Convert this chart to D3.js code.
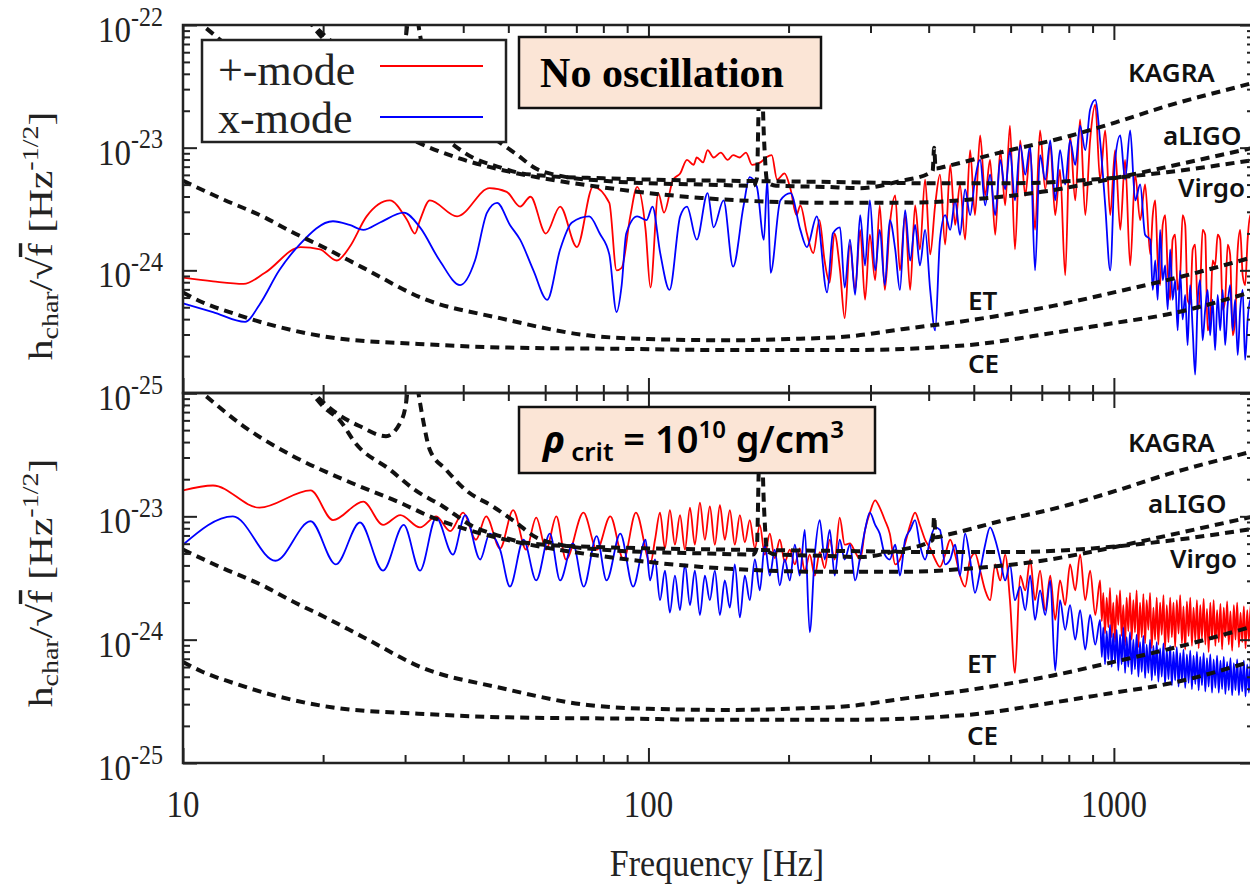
<!DOCTYPE html>
<html>
<head>
<meta charset="utf-8">
<script src="https://cdn.jsdelivr.net/npm/d3@7"></script>
<style>
  body { margin: 0; background: #fff; }
  svg { display: block; }
</style>
</head>
<body>
<script>
// all series: [frequency in Hz, log10 of h_char/sqrt(f) in Hz^-1/2]

// top panel: no oscillation
const topPlus = [[10,-24.06],[11.6,-24.09],[13.5,-24.11],[15,-24.02],[17.9,-23.81],[19.7,-23.83],[21.4,-23.92],[22.8,-23.81],[24.8,-23.56],[27.8,-23.43],[30.3,-23.59],[31.5,-23.7],[32.3,-23.59],[33.9,-23.43],[38.8,-23.56],[45.6,-23.33],[49.6,-23.36],[53,-23.48],[55.8,-23.4],[60.2,-23.7],[64.6,-23.48],[70.2,-23.81],[76,-23.32],[82.4,-23.45],[85.4,-24],[87.6,-23.98],[91.4,-23.56],[94.6,-23.32],[98.6,-23.67],[101,-24.14],[105,-23.37],[108,-23.53],[113,-23.26],[117,-23.21],[121,-23.1],[125,-23.14],[127,-23.08],[131,-23.12],[134,-23.02],[138,-23.08],[143,-23.04],[148,-23.1],[152,-23.06],[157,-23.08],[162,-23.04],[167,-23.14],[174,-23.12],[179,-23.08],[184,-23.06],[189,-23.26],[196,-23.21],[202,-23.34],[208,-23.55],[212,-23.47],[219,-23.7],[226,-23.86],[233,-23.59],[239,-23.92],[245,-24.1],[251,-23.7],[258,-24],[264,-24.39],[271,-23.79],[278,-24.16],[285,-23.67],[292,-24.24],[299,-23.71],[307,-24.08],[314,-23.47],[322,-24.16],[330,-23.63],[339,-23.39],[347,-24],[356,-23.55],[365,-24.16],[374,-23.47],[383,-23.83],[393,-23.26],[403,-23.87],[413,-23.47],[423,-23.22],[434,-23.79],[445,-23.14],[456,-23.63],[467,-23.3],[479,-23.75],[491,-23.02],[503,-23.55],[516,-22.9],[529,-23.39],[542,-23.1],[556,-23.71],[570,-23.02],[584,-23.47],[598,-22.82],[613,-23.83],[629,-22.94],[645,-23.39],[661,-23.02],[677,-23.67],[694,-22.86],[712,-23.34],[730,-22.98],[748,-23.55],[766,-23.18],[786,-24.04],[805,-22.9],[826,-23.43],[846,-22.77],[868,-23.55],[889,-22.94],[912,-22.65],[934,-23.26],[958,-22.86],[982,-23.55],[1006,-23.02],[1032,-23.67],[1057,-23.1],[1084,-23.96],[1111,-23.22],[1139,-23.59],[1167,-23.3],[1197,-23.87],[1212,-23.55],[1227,-23.43],[1242,-23.92],[1257,-24.12],[1273,-23.63],[1289,-23.55],[1305,-24],[1321,-24.24],[1337,-23.75],[1354,-23.71],[1371,-24.16],[1388,-24.04],[1405,-23.55],[1423,-23.63],[1440,-24.24],[1458,-24.28],[1477,-23.83],[1495,-23.79],[1514,-24.32],[1532,-24.16],[1551,-23.67],[1571,-23.71],[1590,-24.49],[1610,-24.4],[1630,-23.92],[1650,-23.96],[1671,-23.71],[1692,-23.75],[1713,-24.32],[1734,-24.24],[1756,-23.79],[1777,-23.87],[1800,-24.53],[1822,-24.4],[1845,-23.83],[1868,-23.67],[1891,-24.04],[1914,-24.12],[1938,-23.75],[1962,-23.55],[1987,-23.87],[2000,-23.71]];

const topCross = [[10,-24.27],[11.6,-24.34],[13.6,-24.42],[14.6,-24.28],[16.1,-24],[17.8,-23.79],[21,-23.6],[22.8,-23.63],[24.4,-23.67],[26.5,-23.61],[29.8,-23.53],[32.3,-23.65],[35.6,-23.92],[39.4,-24.12],[42.4,-23.92],[45,-23.53],[47.3,-23.45],[50.4,-23.63],[53,-23.75],[56.6,-24],[60.6,-24.24],[64.6,-23.83],[68.5,-23.61],[74.6,-23.56],[78.6,-23.7],[82.4,-23.87],[85.4,-24.34],[87.6,-24.12],[89.6,-23.7],[94.6,-23.56],[99.1,-23.59],[102,-23.48],[106,-23.86],[111,-24.16],[117,-23.56],[121,-23.48],[127,-23.75],[134,-23.37],[138,-23.65],[145,-23.43],[152,-23.97],[160,-23.48],[165,-23.24],[171,-23.32],[177,-23.75],[180,-23.26],[183,-24.02],[192,-23.43],[202,-23.37],[212,-23.67],[219,-23.81],[230,-23.56],[242,-24.18],[249,-23.7],[258,-23.65],[264,-24.14],[271,-23.75],[278,-24.2],[285,-23.55],[292,-23.96],[299,-23.43],[307,-24],[314,-23.67],[322,-24.12],[330,-23.59],[339,-23.83],[347,-24.16],[356,-23.51],[365,-23.92],[374,-23.63],[383,-23.96],[393,-23.67],[403,-24.16],[413,-24.49],[423,-23.75],[434,-23.55],[445,-23.67],[456,-23.43],[467,-23.71],[479,-23.34],[491,-23.55],[503,-23.26],[516,-23.1],[529,-23.47],[542,-23.22],[556,-23.55],[570,-23.1],[584,-23.34],[598,-23.02],[613,-23.43],[629,-22.98],[645,-23.22],[661,-22.98],[677,-24],[694,-23.06],[712,-23.26],[730,-22.94],[748,-23.43],[766,-23.02],[786,-23.3],[805,-22.94],[826,-23.14],[846,-22.82],[868,-23.02],[889,-22.69],[912,-22.61],[934,-22.94],[958,-23.47],[982,-24],[1006,-23.1],[1032,-22.9],[1057,-23.26],[1084,-22.86],[1111,-23.43],[1139,-23.3],[1167,-23.71],[1197,-23.75],[1212,-24.16],[1227,-23.92],[1242,-24.24],[1257,-23.67],[1273,-24.08],[1289,-23.96],[1305,-24.32],[1321,-23.83],[1337,-24.24],[1354,-24.08],[1371,-24.49],[1388,-24],[1405,-24.4],[1423,-24.2],[1440,-24.61],[1458,-24.12],[1477,-24.49],[1495,-24.85],[1514,-24.24],[1532,-24.08],[1551,-24.57],[1571,-24.32],[1590,-24.16],[1610,-24.53],[1630,-24.24],[1650,-24.65],[1671,-24.2],[1692,-24.49],[1713,-24.16],[1734,-24.61],[1756,-24.28],[1777,-24.12],[1800,-24.49],[1822,-24.24],[1845,-24.69],[1868,-24.32],[1891,-24.16],[1914,-24.73],[1938,-24.4],[1962,-24.24],[1987,-24.57],[2000,-24.4]];

// bottom panel: rho_crit = 1e10 g/cm^3
const botPlus = [[10,-22.79],[11.6,-22.75],[14.6,-22.93],[18.8,-22.79],[21,-23.03],[24.4,-22.88],[26.9,-23.07],[29.3,-22.99],[32.3,-23.09],[35,-23],[37.5,-23.12],[40,-22.97],[42.6,-23.19],[44.8,-23],[48,-23.26],[51.2,-22.95],[54.6,-23.27],[57.4,-23.01],[60.3,-23.27],[63.4,-23],[66.5,-23.35],[72.5,-22.97],[77.5,-23.27],[82.8,-23],[88.4,-23.35],[94,-22.97],[101,-23.38],[103.3,-23.19],[105.9,-22.97],[108.5,-23.26],[111.2,-22.95],[114,-23.23],[116.9,-22.99],[119.8,-23.27],[122.8,-22.93],[125.8,-23.23],[129,-22.89],[132.2,-23.19],[135.5,-22.92],[138.9,-23.23],[142.4,-22.91],[145.9,-23.19],[149.6,-22.95],[153.3,-23.23],[157.2,-22.99],[161.1,-23.21],[165.1,-23.03],[169.3,-23.26],[173.5,-23.07],[177.8,-23.31],[182.3,-23.14],[186.8,-23.34],[191.5,-23.19],[196.3,-23.37],[201.2,-23.27],[206.3,-23.39],[211.4,-23.26],[216.7,-23.44],[222.1,-23.31],[227.7,-23.48],[233.4,-23.29],[239.2,-23.42],[245.2,-23.19],[251.3,-23.35],[257.6,-23.01],[264,-23.23],[271,-23.22],[278,-23.29],[285,-23.35],[292,-23.11],[299,-22.97],[307,-22.87],[314,-22.93],[322,-23.03],[330,-23.14],[339,-23.39],[347,-23.35],[356,-23.22],[365,-23.07],[374,-22.97],[383,-23.07],[393,-23.19],[403,-23.26],[413,-23.35],[423,-23.41],[434,-23.31],[445,-23.19],[456,-23.31],[467,-23.48],[479,-23.57],[491,-23.35],[503,-23.3],[516,-23.44],[529,-23.6],[542,-23.68],[556,-23.39],[570,-23.52],[584,-23.31],[598,-23.68],[613,-24.27],[629,-23.48],[645,-23.6],[661,-23.35],[677,-23.68],[694,-23.44],[712,-23.76],[730,-23.48],[748,-23.84],[766,-23.52],[786,-23.72],[805,-23.39],[826,-23.6],[846,-23.31],[868,-23.68],[889,-23.44],[912,-23.8],[934,-23.52],[942,-23.85],[949,-23.62],[957,-23.95],[965,-23.66],[973,-23.9],[981,-23.58],[989,-23.98],[997,-23.7],[1006,-24.02],[1014,-23.64],[1022,-23.88],[1031,-23.6],[1039,-23.97],[1048,-23.72],[1057,-24.05],[1065,-23.66],[1074,-23.93],[1083,-23.62],[1092,-24],[1101,-23.68],[1110,-23.94],[1119,-23.6],[1129,-24.06],[1138,-23.7],[1148,-23.98],[1157,-23.63],[1167,-24.03],[1176,-23.68],[1186,-23.92],[1196,-23.62],[1206,-24.07],[1216,-23.74],[1226,-24],[1236,-23.66],[1246,-24.04],[1257,-23.7],[1267,-23.96],[1278,-23.64],[1288,-24.08],[1299,-23.72],[1310,-24.02],[1321,-23.66],[1332,-23.98],[1343,-23.7],[1354,-24.06],[1365,-23.68],[1377,-23.95],[1388,-23.64],[1400,-24.03],[1411,-23.73],[1423,-24.08],[1435,-23.69],[1447,-23.97],[1459,-23.66],[1471,-24.05],[1483,-23.74],[1496,-24.01],[1508,-23.68],[1521,-24.07],[1533,-23.72],[1546,-23.99],[1559,-23.67],[1572,-24.04],[1585,-23.75],[1598,-24.1],[1611,-23.7],[1625,-24],[1638,-23.68],[1652,-24.05],[1666,-23.76],[1680,-24.02],[1694,-23.71],[1708,-24.08],[1722,-23.74],[1736,-23.98],[1751,-23.69],[1765,-24.04],[1780,-23.77],[1795,-24.09],[1810,-23.72],[1825,-24],[1840,-23.7],[1856,-24.06],[1871,-23.78],[1887,-24.02],[1902,-23.73],[1918,-24.07],[1934,-23.76],[1950,-24.01],[1966,-23.72],[1983,-24.05],[1999,-23.8]];

const botCross = [[10,-23.23],[12.8,-23],[15.8,-23.36],[18.8,-23.04],[21.3,-23.39],[24,-23.05],[26.9,-23.44],[29.8,-23.07],[32.3,-23.44],[35,-23.01],[38,-23.31],[40.4,-22.99],[43.5,-23.35],[45.6,-23.14],[48,-23.27],[50.4,-23.57],[53.9,-23.19],[57.4,-23.52],[61.4,-23.14],[64.6,-23.52],[68.8,-23.22],[72.6,-23.57],[77.4,-23.16],[81.3,-23.52],[87,-23.14],[92.7,-23.57],[98.6,-23.19],[100.8,-23.52],[103.3,-23.35],[105.9,-23.68],[108.5,-23.44],[111.2,-23.78],[114,-23.48],[116.9,-23.76],[119.8,-23.39],[122.8,-23.72],[125.8,-23.44],[129,-23.8],[132.2,-23.48],[135.5,-23.68],[138.9,-23.44],[142.4,-23.8],[145.9,-23.52],[149.6,-23.74],[153.3,-23.39],[157.2,-23.82],[161.1,-23.48],[165.1,-23.68],[169.3,-23.35],[173.5,-23.6],[177.8,-23.23],[182.3,-23.48],[186.8,-23.27],[191.5,-23.56],[196.3,-23.35],[201.2,-23.52],[206.3,-23.23],[211.4,-23.48],[216.7,-23.11],[222.1,-23.94],[227.7,-23.31],[233.4,-23.03],[239.2,-23.35],[245.2,-23.11],[251.3,-23.48],[257.6,-23.19],[264,-23.35],[271,-23.23],[278,-23.52],[285,-23.33],[292,-23.11],[299,-22.97],[307,-23.07],[314,-23.14],[322,-23.31],[330,-23.35],[339,-23.23],[347,-23.48],[356,-23.19],[365,-23.11],[374,-23.03],[383,-23.23],[393,-23.35],[403,-23.19],[413,-23.09],[423,-23.11],[434,-23.39],[445,-23.35],[456,-23.23],[467,-23.48],[479,-23.14],[491,-23.35],[503,-23.62],[516,-23.44],[529,-23.23],[542,-23.09],[556,-23.19],[570,-23.35],[584,-23.52],[598,-23.39],[613,-23.68],[629,-23.57],[645,-23.76],[661,-23.48],[677,-23.84],[694,-23.6],[712,-23.8],[730,-23.52],[748,-24.25],[766,-23.68],[786,-23.92],[805,-23.72],[826,-24],[846,-23.76],[868,-24.08],[889,-23.8],[912,-24.04],[934,-23.84],[942,-24.14],[949,-23.9],[957,-24.2],[965,-23.93],[973,-24.16],[981,-23.88],[989,-24.22],[997,-23.95],[1006,-24.18],[1014,-23.92],[1022,-24.25],[1031,-23.96],[1039,-24.2],[1048,-23.9],[1057,-24.27],[1065,-23.98],[1074,-24.22],[1083,-23.94],[1092,-24.28],[1101,-24],[1110,-24.24],[1119,-23.96],[1129,-24.3],[1138,-24.02],[1148,-24.26],[1157,-23.97],[1167,-24.31],[1176,-24.04],[1186,-24.27],[1196,-24],[1206,-24.33],[1216,-24.05],[1226,-24.29],[1236,-24.02],[1246,-24.34],[1257,-24.07],[1267,-24.3],[1278,-24.03],[1288,-24.36],[1299,-24.08],[1310,-24.32],[1321,-24.05],[1332,-24.37],[1343,-24.1],[1354,-24.33],[1365,-24.06],[1377,-24.38],[1388,-24.11],[1400,-24.34],[1411,-24.08],[1423,-24.39],[1435,-24.12],[1447,-24.35],[1459,-24.09],[1471,-24.4],[1483,-24.13],[1496,-24.36],[1508,-24.1],[1521,-24.41],[1533,-24.14],[1546,-24.37],[1559,-24.11],[1572,-24.42],[1585,-24.15],[1598,-24.38],[1611,-24.12],[1625,-24.43],[1638,-24.16],[1652,-24.39],[1666,-24.13],[1680,-24.43],[1694,-24.17],[1708,-24.4],[1722,-24.14],[1736,-24.44],[1751,-24.18],[1765,-24.41],[1780,-24.15],[1795,-24.45],[1810,-24.19],[1825,-24.41],[1840,-24.16],[1856,-24.45],[1871,-24.2],[1887,-24.42],[1902,-24.17],[1918,-24.46],[1934,-24.2],[1950,-24.43],[1966,-24.18],[1983,-24.46],[1999,-24.22]];

// detector noise curves
const kagra = [[18.5,-21.95],[19.3,-22.02],[21.3,-22.16],[24,-22.27],[27.3,-22.35],[29.3,-22.24],[30.2,-22.06],[31,-21.6],[31.9,-21.95],[32.8,-22.22],[33.9,-22.46],[36.7,-22.62],[40.6,-22.79],[46.3,-22.92],[51.9,-23.05],[57.3,-23.17],[64.7,-23.23],[80,-23.27],[100,-23.29],[130,-23.3],[168,-23.31],[171,-23.25],[173,-22.5],[175,-22.4],[177,-22.9],[180,-23.28],[188,-23.31],[240,-23.32],[285,-23.33],[350,-23.27],[400,-23.21],[408,-23.19],[411,-23.0],[414,-23.17],[438,-23.15],[569,-23.04],[794,-22.91],[1016,-22.79],[1301,-22.66],[1866,-22.5],[2000,-22.47]];
const aligo = [[10.6,-21.95],[11,-22.0],[13.5,-22.27],[17.2,-22.51],[22.4,-22.71],[29.3,-22.89],[33.9,-23.0],[39.4,-23.09],[48.2,-23.18],[61.5,-23.26],[78.6,-23.32],[100,-23.37],[130,-23.41],[180,-23.44],[250,-23.45],[350,-23.45],[500,-23.42],[700,-23.36],[1000,-23.25],[1400,-23.13],[2000,-23.0]];
const virgo = [[18.5,-21.95],[20,-22.11],[21.7,-22.22],[23.5,-22.41],[27.8,-22.62],[31.6,-22.79],[36.2,-22.92],[41.9,-23.08],[48,-23.16],[52,-23.2],[60,-23.23],[80,-23.25],[100,-23.26],[150,-23.27],[250,-23.28],[400,-23.29],[600,-23.29],[900,-23.26],[1300,-23.2],[2000,-23.1]];
const et = [[10,-23.27],[12,-23.41],[15,-23.57],[17,-23.68],[20,-23.81],[24.4,-23.98],[32.8,-24.23],[48,-24.39],[74,-24.53],[100,-24.56],[150,-24.57],[200,-24.56],[267,-24.54],[350,-24.48],[484,-24.41],[740,-24.29],[1000,-24.18],[1400,-24.05],[2000,-23.89]];
const ce = [[10,-24.18],[11,-24.26],[12.8,-24.35],[16,-24.46],[21,-24.55],[32,-24.6],[50,-24.63],[87,-24.64],[150,-24.65],[267,-24.65],[484,-24.61],[740,-24.51],[1000,-24.43],[1300,-24.36],[2000,-24.17]];

const detectorNames = ["KAGRA", "aLIGO", "Virgo", "ET", "CE"];
const yTickExps = [-22, -23, -24, -25];
const xTickValues = [10, 100, 1000];
const legendNames = ["+-mode", "x-mode"];

const W = 1250, H = 885;
const X0 = 183, X1 = 1254;
const serif = "'Liberation Serif','Times New Roman',serif";
const sans = "'Noto Sans','DejaVu Sans',sans-serif";

const svg = d3.select("body").append("svg").attr("width", W).attr("height", H);
svg.append("rect").attr("width", W).attr("height", H).attr("fill", "#fff");

const x = d3.scaleLog().domain([10, 2000]).range([X0, X1]);

const panels = [
  {y0: 25, y1: 393, plus: topPlus, cross: topCross,
   labels: [[1128, 82], [1163, 145], [1178, 197], [968, 310], [968, 373]]},
  {y0: 393, y1: 763, plus: botPlus, cross: botCross,
   labels: [[1128, 452], [1148, 513], [1170, 568], [967, 673], [967, 745]]}
];

const xMinor = [];
[10, 100, 1000].forEach(function(d) {
  for (let k = 2; k <= 9; k++) if (d * k < 2000) xMinor.push(d * k);
});
const yMinor = [];
[1e-25, 1e-24, 1e-23].forEach(function(d) {
  for (let k = 2; k <= 9; k++) yMinor.push(d * k);
});

panels.forEach(function(p, i) {
  const y = d3.scaleLog().domain([1e-25, 1e-22]).range([p.y1, p.y0]);
  const line = d3.line()
    .x(function(d) { return x(d[0]); })
    .y(function(d) { return y(Math.pow(10, d[1])); })
    .curve(d3.curveMonotoneX);

  const clipId = "clip" + i;
  svg.append("clipPath").attr("id", clipId)
    .append("rect").attr("x", X0).attr("y", p.y0).attr("width", X1 - X0).attr("height", p.y1 - p.y0);

  const g = svg.append("g").attr("clip-path", "url(#" + clipId + ")");
  g.append("path").datum(p.plus).attr("d", line)
    .attr("fill", "none").attr("stroke", "#ff0000").attr("stroke-width", 1.8);
  g.append("path").datum(p.cross).attr("d", line)
    .attr("fill", "none").attr("stroke", "#0000ff").attr("stroke-width", 1.8);

  [kagra, aligo, virgo, et, ce].forEach(function(c) {
    g.append("path").datum(c).attr("d", line)
      .attr("fill", "none").attr("stroke", "#111").attr("stroke-width", 4)
      .attr("stroke-dasharray", "9,6");
  });

  // ticks on all four sides, pointing inwards
  function ticks(axis, tr) {
    const a = svg.append("g").attr("transform", tr).call(axis);
    a.select(".domain").remove();
    a.selectAll("line").attr("stroke", "#222").attr("stroke-width", 2);
    a.selectAll("text").remove();
  }
  const major = [1e-25, 1e-24, 1e-23, 1e-22];
  ticks(d3.axisLeft(y).tickValues(major).tickSize(-14), `translate(${X0},0)`);
  ticks(d3.axisLeft(y).tickValues(yMinor).tickSize(-7), `translate(${X0},0)`);
  ticks(d3.axisRight(y).tickValues(major).tickSize(-14), `translate(${X1},0)`);
  ticks(d3.axisRight(y).tickValues(yMinor).tickSize(-7), `translate(${X1},0)`);
  ticks(d3.axisTop(x).tickValues(xTickValues).tickSize(-15), `translate(0,${p.y0})`);
  ticks(d3.axisTop(x).tickValues(xMinor).tickSize(-8), `translate(0,${p.y0})`);
  ticks(d3.axisBottom(x).tickValues(xTickValues).tickSize(-15), `translate(0,${p.y1})`);
  ticks(d3.axisBottom(x).tickValues(xMinor).tickSize(-8), `translate(0,${p.y1})`);

  svg.append("rect").attr("x", X0).attr("y", p.y0).attr("width", X1 - X0).attr("height", p.y1 - p.y0)
    .attr("fill", "none").attr("stroke", "#222").attr("stroke-width", 2.5);

  // y tick labels
  yTickExps.forEach(function(e) {
    if (i === 1 && e === -22) return;
    const t = svg.append("text")
      .attr("transform", `translate(163,${y(Math.pow(10, e)) + 17}) scale(1,1.1)`)
      .attr("text-anchor", "end").attr("font-family", serif).attr("font-size", 33).attr("fill", "#222");
    t.append("tspan").text("10");
    t.append("tspan").attr("font-size", 24).attr("dy", -15).text(e);
  });

  // detector labels
  detectorNames.forEach(function(n, k) {
    svg.append("text").attr("x", p.labels[k][0]).attr("y", p.labels[k][1])
      .attr("font-family", sans).attr("font-weight", 600).attr("font-size", 26)
      .attr("fill", "#111").text(n);
  });

  // y axis title
  const cy = (p.y0 + p.y1) / 2 + (i === 0 ? 27 : 5);
  const tt = svg.append("text")
    .attr("transform", `translate(52,${cy}) rotate(-90) scale(1.22,1)`)
    .attr("text-anchor", "middle").attr("font-family", serif).attr("font-size", 34).attr("fill", "#222");
  tt.append("tspan").text("h");
  tt.append("tspan").attr("font-size", 23).attr("dy", 6).text("char");
  tt.append("tspan").attr("dy", -6).text("/\u221A");
  tt.append("tspan").style("text-decoration", "overline").text("f");
  tt.append("tspan").text(" [Hz");
  tt.append("tspan").attr("font-size", 23).attr("dy", -14).text("-1/2");
  tt.append("tspan").attr("dy", 14).text("]");
});

// x tick labels and title
xTickValues.forEach(function(v) {
  svg.append("text").attr("transform", `translate(${x(v)},817) scale(1,1.12)`)
    .attr("text-anchor", "middle").attr("font-family", serif).attr("font-size", 33).attr("fill", "#222")
    .text(v);
});
svg.append("text").attr("transform", "translate(717,876) scale(1,1.1)")
  .attr("text-anchor", "middle").attr("font-family", serif).attr("font-size", 34).attr("fill", "#222")
  .text("Frequency [Hz]");

// legend
svg.append("rect").attr("x", 202).attr("y", 40).attr("width", 304).attr("height", 102)
  .attr("fill", "#fff").attr("stroke", "#222").attr("stroke-width", 2.5);
const legColors = ["#ff0000", "#0000ff"];
legendNames.forEach(function(n, k) {
  svg.append("text").attr("x", 218).attr("y", 85 + k * 48)
    .attr("font-family", serif).attr("font-size", 44).attr("fill", "#222").text(n);
  svg.append("line").attr("x1", 380).attr("x2", 483).attr("y1", 66 + k * 51).attr("y2", 66 + k * 51)
    .attr("stroke", legColors[k]).attr("stroke-width", 2);
});

// annotation boxes
svg.append("rect").attr("x", 519).attr("y", 37).attr("width", 302).attr("height", 71)
  .attr("fill", "#fbe5d6").attr("stroke", "#111").attr("stroke-width", 2.5);
svg.append("text").attr("x", 662).attr("y", 87).attr("text-anchor", "middle")
  .attr("font-family", serif).attr("font-weight", "bold").attr("font-size", 42).attr("fill", "#000")
  .text("No oscillation");

svg.append("rect").attr("x", 519).attr("y", 407).attr("width", 356).attr("height", 66)
  .attr("fill", "#fbe5d6").attr("stroke", "#111").attr("stroke-width", 2.5);
const bt = svg.append("text").attr("x", 543).attr("y", 453)
  .attr("font-family", sans).attr("font-weight", 600).attr("font-size", 38).attr("fill", "#000");
bt.append("tspan").attr("font-style", "italic").attr("font-weight", "bold").text("\u03C1");
bt.append("tspan").attr("font-size", 26).attr("dx", 6).attr("dy", 8).text("crit");
bt.append("tspan").attr("dy", -8).text(" = 10");
bt.append("tspan").attr("font-size", 24).attr("dy", -15).text("10");
bt.append("tspan").attr("dy", 15).text(" g/cm");
bt.append("tspan").attr("font-size", 24).attr("dy", -15).text("3");
</script>
</body>
</html>
